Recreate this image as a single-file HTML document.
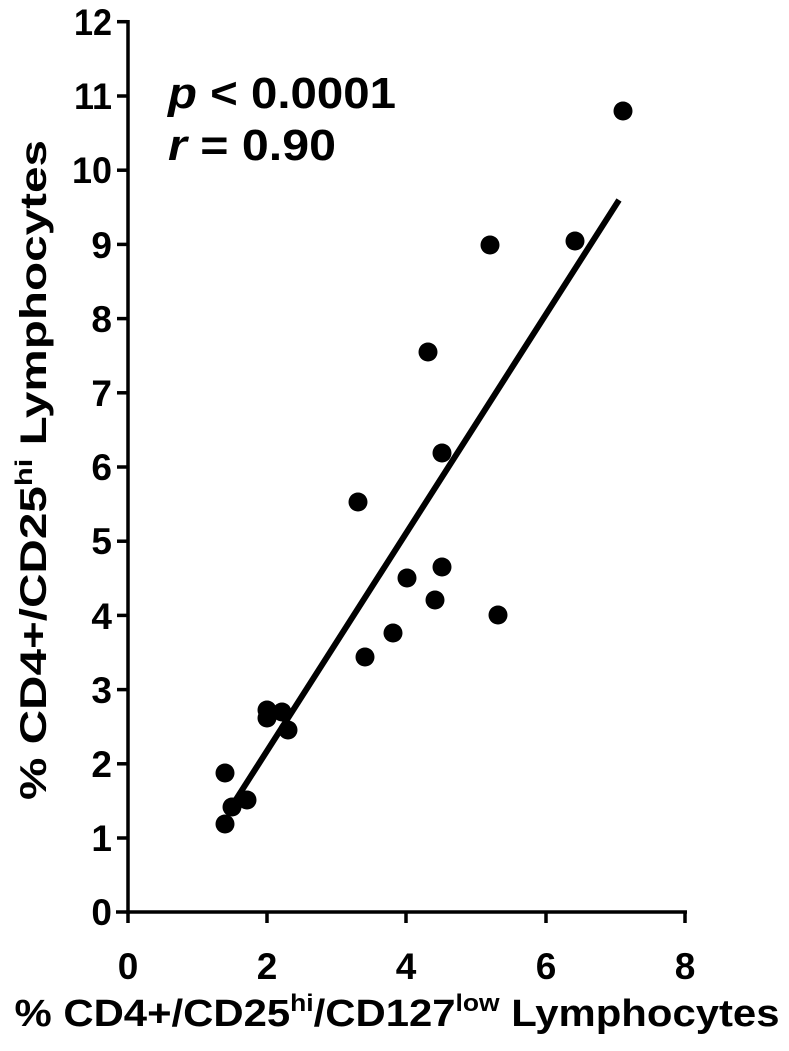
<!DOCTYPE html>
<html><head><style>
body{margin:0;background:#fff;}
svg text{font-family:"Liberation Sans",Arial,sans-serif;font-weight:bold;fill:#000;}
</style></head><body>
<svg width="789" height="1046" viewBox="0 0 789 1046" xmlns="http://www.w3.org/2000/svg">
<g stroke="#000" stroke-width="3.5" fill="none">
<line x1="128" y1="20" x2="128" y2="914"/>
<line x1="116" y1="912" x2="687" y2="912"/>
<line x1="117" y1="21.7" x2="128" y2="21.7"/>
<line x1="117" y1="96" x2="128" y2="96"/>
<line x1="117" y1="170.2" x2="128" y2="170.2"/>
<line x1="117" y1="244.4" x2="128" y2="244.4"/>
<line x1="117" y1="318.6" x2="128" y2="318.6"/>
<line x1="117" y1="392.8" x2="128" y2="392.8"/>
<line x1="117" y1="467" x2="128" y2="467"/>
<line x1="117" y1="541.2" x2="128" y2="541.2"/>
<line x1="117" y1="615.4" x2="128" y2="615.4"/>
<line x1="117" y1="689.6" x2="128" y2="689.6"/>
<line x1="117" y1="763.8" x2="128" y2="763.8"/>
<line x1="117" y1="838" x2="128" y2="838"/>
<line x1="128" y1="912" x2="128" y2="923"/>
<line x1="267" y1="912" x2="267" y2="923"/>
<line x1="406" y1="912" x2="406" y2="923"/>
<line x1="546" y1="912" x2="546" y2="923"/>
<line x1="685" y1="912" x2="685" y2="923"/>
<line x1="228" y1="812" x2="619" y2="200" stroke-width="6"/>
</g>
<g font-size="37" text-anchor="end">
<text x="112" y="35" textLength="38" lengthAdjust="spacingAndGlyphs">12</text>
<text x="112" y="109" textLength="38" lengthAdjust="spacingAndGlyphs">11</text>
<text x="112" y="183" textLength="40" lengthAdjust="spacingAndGlyphs">10</text>
<text x="112" y="258">9</text><text x="112" y="332">8</text><text x="112" y="406">7</text>
<text x="112" y="480">6</text><text x="112" y="554">5</text><text x="112" y="629">4</text>
<text x="112" y="703">3</text><text x="112" y="777">2</text><text x="112" y="851">1</text>
<text x="112" y="925">0</text>
</g>
<g font-size="37" text-anchor="middle">
<text x="128" y="979">0</text><text x="267" y="979">2</text><text x="406" y="979">4</text>
<text x="546" y="979">6</text><text x="685" y="979">8</text>
</g>
<g fill="#000">
<circle cx="442" cy="453" r="9.5"/><circle cx="358" cy="502" r="9.5"/><circle cx="407" cy="578" r="9.5"/>
<circle cx="442" cy="567" r="9.5"/><circle cx="435" cy="600" r="9.5"/><circle cx="498" cy="615" r="9.5"/>
<circle cx="393" cy="633" r="9.5"/><circle cx="365" cy="657" r="9.5"/><circle cx="267" cy="710" r="9.5"/>
<circle cx="282" cy="712" r="9.5"/><circle cx="267" cy="718" r="9.5"/><circle cx="288" cy="730" r="9.5"/>
<circle cx="225" cy="773" r="9.5"/><circle cx="247" cy="800" r="9.5"/><circle cx="232" cy="807" r="9.5"/>
<circle cx="225" cy="824" r="9.5"/><circle cx="623" cy="111" r="9.5"/><circle cx="490" cy="245" r="9.5"/>
<circle cx="575" cy="241" r="9.5"/><circle cx="428" cy="352" r="9.5"/>
</g>
<text x="168" y="108" font-size="44" textLength="228" lengthAdjust="spacingAndGlyphs"><tspan font-style="italic">p</tspan> &lt; 0.0001</text>
<text x="168" y="160" font-size="44" textLength="168" lengthAdjust="spacingAndGlyphs"><tspan font-style="italic">r</tspan> = 0.90</text>
<text transform="translate(46,470) rotate(-90)" text-anchor="middle" font-size="37" textLength="660" lengthAdjust="spacingAndGlyphs">% CD4+/CD25<tspan font-size="24" dy="-14">hi</tspan><tspan dy="14"> Lymphocytes</tspan></text>
<text x="397" y="1026" text-anchor="middle" font-size="38" textLength="765" lengthAdjust="spacingAndGlyphs">% CD4+/CD25<tspan font-size="24" dy="-15">hi</tspan><tspan dy="15">/CD127</tspan><tspan font-size="24" dy="-15">low</tspan><tspan dy="15"> Lymphocytes</tspan></text>
</svg>
</body></html>
